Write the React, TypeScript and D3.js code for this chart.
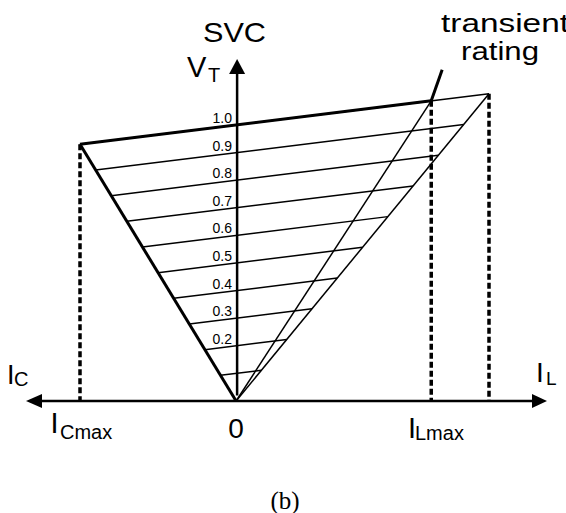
import React from 'react'
import * as d3 from 'd3'

// SVC V-I characteristic (per unit current / voltage)
const voltageLevels = [0.1, 0.2, 0.3, 0.4, 0.5, 0.6, 0.7, 0.8, 0.9, 1.0]
const labelLevels = [0.2, 0.3, 0.4, 0.5, 0.6, 0.7, 0.8, 0.9, 1.0]
const levelLabels = ['0.2', '0.3', '0.4', '0.5', '0.6', '0.7', '0.8', '0.9', '1.0']
const icMax = -1.0
const ilMax = 1.25
const itMax = 1.62
const slope = 0.07
const transientTip = [1.32, 1.2]

const W = 566
const H = 513
const font = '"Liberation Sans", Arial, sans-serif'

export default function App () {
  const x = d3.scaleLinear().domain([icMax, itMax]).range([80, 489])
  const y = d3.scaleLinear().domain([0, 1]).range([401, 125])
  const line = d3.line<number[]>().x(d => x(d[0])).y(d => y(d[1]))

  const vAt = (v: number, i: number) => v + slope * i
  const x0 = x(0)
  const y0 = y(0)

  return (
    <svg width={W} height={H} style={{ position: 'absolute', left: 0, top: 0, background: '#fff' }}>
      {/* slope lines for each reference voltage */}
      {voltageLevels.map(v => (
        <path key={v} d={line([[icMax * v, vAt(v, icMax * v)], [itMax * v, vAt(v, itMax * v)]]) || ''}
          stroke='#000' strokeWidth={1.5} fill='none' />
      ))}
      {/* thick 1.0 line up to ILmax */}
      <path d={line([[icMax, vAt(1, icMax)], [ilMax, vAt(1, ilMax)]]) || ''} stroke='#000' strokeWidth={3} fill='none' />
      {/* capacitive limit */}
      <path d={line([[0, 0], [icMax, vAt(1, icMax)]]) || ''} stroke='#000' strokeWidth={3} fill='none' />
      {/* inductive limits */}
      <path d={line([[0, 0], [ilMax, vAt(1, ilMax)]]) || ''} stroke='#000' strokeWidth={1.5} fill='none' />
      <path d={line([[0, 0], [itMax, vAt(1, itMax)]]) || ''} stroke='#000' strokeWidth={1.5} fill='none' />
      <path d={line([[ilMax, vAt(1, ilMax)], transientTip]) || ''} stroke='#000' strokeWidth={3} fill='none' />

      {/* dashed drop lines */}
      {[icMax, ilMax, itMax].map(i => (
        <line key={i} x1={x(i)} x2={x(i)} y1={y(vAt(1, i))} y2={y0} stroke='#000' strokeWidth={3.5} strokeDasharray='6,3' />
      ))}

      {/* axes */}
      <line x1={41} x2={533} y1={y0} y2={y0} stroke='#000' strokeWidth={2.5} />
      <path d={`M26,${y0} L42,${y0 - 7} L42,${y0 + 7} Z`} fill='#000' />
      <path d={`M547,${y0} L532,${y0 - 7} L532,${y0 + 7} Z`} fill='#000' />
      <line x1={x0 + 1} x2={x0 + 1} y1={72} y2={y(0.02)} stroke='#000' strokeWidth={2.5} />
      <path d={`M${x0 + 1},59 L${x0 - 7},74 L${x0 + 9},74 Z`} fill='#000' />

      {/* level labels */}
      {labelLevels.map((v, i) => (
        <text key={v} x={232} y={y(v) - 2} textAnchor='end' fontFamily={font} fontSize={14}>{levelLabels[i]}</text>
      ))}

      <g fontFamily={font} fill='#000'>
        <text x={203} y={42} fontSize={28} textLength={63} lengthAdjust='spacingAndGlyphs'>SVC</text>
        <text x={187} y={77} fontSize={29}>V</text>
        <text x={208} y={82} fontSize={20}>T</text>

        <text x={441} y={32} fontSize={26} textLength={128} lengthAdjust='spacingAndGlyphs'>transient</text>
        <text x={461} y={60} fontSize={26} textLength={78} lengthAdjust='spacingAndGlyphs'>rating</text>

        <text x={7} y={384} fontSize={27}>I</text>
        <text x={14} y={386} fontSize={20}>C</text>
        <text x={536} y={382} fontSize={28}>I</text>
        <text x={546} y={385} fontSize={19}>L</text>

        <text x={50.5} y={433} fontSize={29}>I</text>
        <text x={60} y={439} fontSize={20}>Cmax</text>
        <text x={236} y={438} fontSize={28} textAnchor='middle'>0</text>
        <text x={408} y={438} fontSize={29}>I</text>
        <text x={415} y={440} fontSize={20}>Lmax</text>
      </g>
      <text x={285} y={509} textAnchor='middle' fontFamily='"Liberation Serif", "Times New Roman", serif' fontSize={25}>(b)</text>
    </svg>
  )
}
